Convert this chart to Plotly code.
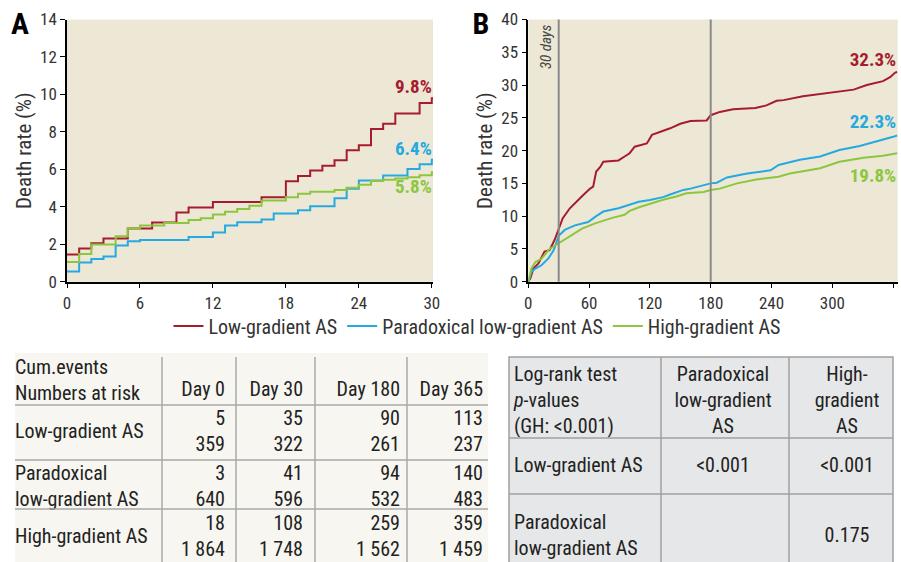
import plotly.graph_objects as go

FONT = "Roboto, Open Sans, sans-serif"
RED = "#a61c2e"
BLUE = "#25a9e0"
GREEN = "#8cc63f"
PLOT_BG = "#ece8d5"
TXT = "#333333"

series_names = ["Low-gradient AS", "Paradoxical low-gradient AS", "High-gradient AS"]
series_colors = [RED, BLUE, GREEN]

# ---- Panel A (first 30 days) ----
a_red_x = [0, 1, 2, 3, 5, 7, 9, 10, 12, 16, 18, 19, 20, 21, 22, 23, 24, 25, 26, 27, 29, 30, 30.1]
a_red_y = [1.45, 1.77, 2.05, 2.30, 2.84, 3.16, 3.70, 3.96, 4.25, 4.51, 5.37, 5.65, 5.94, 6.19, 6.49, 7.02, 7.29, 8.15, 8.43, 8.98, 9.54, 9.79, 9.79]
a_blue_x = [0, 1, 2, 3, 4, 5, 6, 10, 12, 13, 14, 16, 17, 19, 20, 22, 23, 24, 26, 28, 29, 30, 30.1]
a_blue_y = [0.55, 1.02, 1.21, 1.34, 1.93, 2.16, 2.23, 2.39, 2.63, 3.0, 3.17, 3.32, 3.64, 3.81, 4.03, 4.46, 4.96, 5.40, 5.67, 6.02, 6.27, 6.51, 6.51]
a_green_x = [0, 1, 2, 4, 5, 6, 8, 10, 11, 12, 13, 14, 15, 16, 18, 19, 20, 22, 23, 24, 25, 26, 27, 28, 29, 30, 30.1]
a_green_y = [1.05, 1.48, 1.98, 2.43, 2.84, 3.0, 3.13, 3.30, 3.39, 3.59, 3.73, 3.88, 4.05, 4.33, 4.51, 4.69, 4.80, 4.90, 5.01, 5.17, 5.38, 5.44, 5.51, 5.58, 5.69, 5.85, 5.85]
a_end_labels = ["9.8%", "6.4%", "5.8%"]
a_label_y = [10.35, 7.04, 4.98]
a_xticks = [0, 6, 12, 18, 24, 30]
a_yticks = [0, 2, 4, 6, 8, 10, 12, 14]

# ---- Panel B (first year) ----
b_red_x = [0, 2, 5, 10, 16, 21, 26, 30, 34, 41, 46, 54, 61, 64, 67, 71, 74, 89, 95, 100, 105, 117, 122, 132, 140, 150, 160, 176, 180, 189, 202, 224, 235, 245, 252, 271, 298, 321, 334, 350, 357, 362, 364]
b_red_y = [0, 0.5, 2.0, 2.8, 4.6, 4.8, 6.4, 8.0, 9.7, 11.2, 12.0, 13.2, 14.2, 14.5, 16.8, 17.5, 18.3, 18.5, 19.1, 19.6, 20.6, 21.1, 22.4, 22.9, 23.4, 24.1, 24.5, 24.6, 25.4, 25.9, 26.3, 26.5, 26.9, 27.6, 27.7, 28.3, 28.8, 29.3, 30.0, 30.6, 31.2, 31.9, 32.0]
b_blue_x = [0, 3, 7, 13, 20, 25, 30, 36, 46, 59, 67, 74, 89, 100, 109, 120, 133, 140, 153, 160, 171, 180, 186, 196, 216, 239, 247, 268, 288, 307, 327, 347, 360, 364]
b_blue_y = [0, 1.5, 2.0, 2.5, 3.6, 4.8, 7.0, 7.9, 8.6, 9.1, 10.0, 10.7, 11.2, 11.7, 12.2, 12.45, 12.9, 13.3, 14.0, 14.2, 14.7, 15.0, 15.1, 15.9, 16.5, 17.0, 17.8, 18.6, 19.1, 20.1, 20.7, 21.5, 22.1, 22.3]
b_green_x = [0, 3, 7, 13, 21, 30, 40, 53, 66, 82, 95, 100, 110, 120, 133, 146, 156, 173, 180, 189, 206, 225, 247, 258, 288, 307, 331, 350, 364]
b_green_y = [0, 2.0, 3.0, 3.5, 5.0, 5.85, 6.9, 8.1, 8.9, 9.7, 10.2, 10.8, 11.4, 11.9, 12.5, 13.0, 13.5, 13.7, 14.0, 14.2, 15.0, 15.6, 16.0, 16.5, 17.3, 18.3, 18.9, 19.2, 19.6]
b_end_labels = ["32.3%", "22.3%", "19.8%"]
b_label_y = [33.6, 24.1, 15.9]
b_marker_days = [30, 180]
b_xticks = [0, 60, 120, 180, 240, 300, 360]
b_yticks = [0, 5, 10, 15, 20, 25, 30, 35, 40]

# ---- Numbers-at-risk table ----
risk_header = ["Day 0", "Day 30", "Day 180", "Day 365"]
risk_rows = ["Low-gradient AS", "Paradoxical<br>low-gradient AS", "High-gradient AS"]
risk_events = [["5", "35", "90", "113"], ["3", "41", "94", "140"], ["18", "108", "259", "359"]]
risk_atrisk = [["359", "322", "261", "237"], ["640", "596", "532", "483"], ["1 864", "1 748", "1 562", "1 459"]]

# ---- Log-rank table ----
lr_header = ["Log-rank test<br><i>p</i>-values<br>(GH: <0.001)", "Paradoxical<br>low-gradient<br>AS", "High-<br>gradient<br>AS"]
lr_rows = ["Low-gradient AS", "Paradoxical<br>low-gradient AS"]
lr_values = [["<0.001", "<0.001"], ["", "0.175"]]

W, H = 901, 562
def px(x):
    return x / W
def py(y):
    return 1 - y / H

fig = go.Figure()

a_data = [(a_red_x, a_red_y), (a_blue_x, a_blue_y), (a_green_x, a_green_y)]
b_data = [(b_red_x, b_red_y), (b_blue_x, b_blue_y), (b_green_x, b_green_y)]
for i, (xs, ys) in enumerate(a_data):
    fig.add_trace(go.Scatter(x=xs, y=ys, mode="lines", line=dict(color=series_colors[i], width=2, shape="hv"),
                             name=series_names[i], legendgroup=series_names[i], showlegend=True,
                             xaxis="x", yaxis="y", hoverinfo="skip"))
for i, (xs, ys) in enumerate(b_data):
    fig.add_trace(go.Scatter(x=xs, y=ys, mode="lines", line=dict(color=series_colors[i], width=2),
                             name=series_names[i], legendgroup=series_names[i], showlegend=False,
                             xaxis="x2", yaxis="y2", hoverinfo="skip"))

# end-of-curve percentages, right-aligned at the last day of each panel
fig.add_trace(go.Scatter(x=[30] * 3, y=a_label_y, mode="text", text=["<b>%s</b>" % t for t in a_end_labels],
                         textposition="middle left", textfont=dict(family=FONT, size=19, color=series_colors),
                         showlegend=False, hoverinfo="skip", xaxis="x", yaxis="y", cliponaxis=False))
fig.add_trace(go.Scatter(x=[363] * 3, y=b_label_y, mode="text", text=["<b>%s</b>" % t for t in b_end_labels],
                         textposition="middle left", textfont=dict(family=FONT, size=19, color=series_colors),
                         showlegend=False, hoverinfo="skip", xaxis="x2", yaxis="y2", cliponaxis=False))

# ---- page-level text (panel letters, tables) on an invisible pixel-scaled overlay axis ----
left_x, left_y, left_t = [], [], []
right_x, right_y, right_t = [], [], []
cen_x, cen_y, cen_t = [], [], []

left_x.append(15); left_y.append(382); left_t.append("Cum.events<br>Numbers at risk")
col_right = [225, 303, 400, 483]
for j, h in enumerate(risk_header):
    right_x.append(col_right[j]); right_y.append(391); right_t.append(h)
row_centers = [433, 488, 538]
for i, r in enumerate(risk_rows):
    left_x.append(15); left_y.append(row_centers[i]); left_t.append(r)
    for j in range(4):
        right_x.append(col_right[j]); right_y.append(row_centers[i])
        right_t.append("%s<br>%s" % (risk_events[i][j], risk_atrisk[i][j]))
left_x.append(514); left_y.append(402); left_t.append(lr_header[0])
lr_cx = [723, 847]
for j in range(2):
    cen_x.append(lr_cx[j]); cen_y.append(402); cen_t.append(lr_header[j + 1])
lr_row_c = [467, 537]
for i, r in enumerate(lr_rows):
    left_x.append(514); left_y.append(lr_row_c[i]); left_t.append(r)
    for j in range(2):
        if lr_values[i][j]:
            cen_x.append(lr_cx[j]); cen_y.append(lr_row_c[i]); cen_t.append(lr_values[i][j])

tfont = dict(family=FONT, size=20, color="#222")
for xs, ys, ts, pos in [(left_x, left_y, left_t, "middle right"), (right_x, right_y, right_t, "middle left"),
                        (cen_x, cen_y, cen_t, "middle center")]:
    fig.add_trace(go.Scatter(x=xs, y=ys, text=ts, mode="text", textposition=pos, textfont=tfont,
                             showlegend=False, hoverinfo="skip", xaxis="x3", yaxis="y3", cliponaxis=False))
fig.add_trace(go.Scatter(x=[20, 481], y=[26, 26], text=["<b>A</b>", "<b>B</b>"], mode="text",
                         textposition="middle center", textfont=dict(family=FONT, size=30, color="black"),
                         showlegend=False, hoverinfo="skip", xaxis="x3", yaxis="y3", cliponaxis=False))

axis_common = dict(showline=True, linecolor="black", linewidth=1.5, ticks="outside", ticklen=5,
                   tickcolor="black", tickwidth=1.2, showgrid=False, zeroline=False, automargin=False,
                   tickfont=dict(family=FONT, size=17, color=TXT))
ytitle = dict(text="Death rate (%)", font=dict(family=FONT, size=21, color=TXT), standoff=3)
ydom = [py(281.7), py(19.5)]
fig.update_layout(
    xaxis=dict(domain=[px(67), px(433)], range=[0, 30.1], tickvals=a_xticks, anchor="y", **axis_common),
    yaxis=dict(domain=ydom, range=[0, 14], tickvals=a_yticks, anchor="x", title=ytitle, **axis_common),
    xaxis2=dict(domain=[px(528.3), px(897.7)], range=[0, 364.5], tickvals=b_xticks, anchor="y2", **axis_common),
    yaxis2=dict(domain=ydom, range=[0, 40], tickvals=b_yticks, anchor="x2", title=ytitle, **axis_common),
    xaxis3=dict(domain=[0, 1], range=[0, W], visible=False, anchor="y3", fixedrange=True, automargin=False),
    yaxis3=dict(domain=[0, 1], range=[H, 0], visible=False, anchor="x3", fixedrange=True, automargin=False),
)

shapes = []
for xr, yr in [("x domain", "y domain"), ("x2 domain", "y2 domain")]:
    shapes.append(dict(type="rect", xref=xr, yref=yr, x0=0, x1=1, y0=0, y1=1, fillcolor=PLOT_BG,
                       line=dict(width=0), layer="below"))
for d in b_marker_days:
    shapes.append(dict(type="line", xref="x2", yref="y2 domain", x0=d, x1=d, y0=0, y1=1,
                       line=dict(color="#8a8a8a", width=2), layer="above"))

annotations = [dict(xref="x2", yref="y2", x=18.2, y=35.9, text="<i>30 days</i>", textangle=-90,
                    showarrow=False, font=dict(family=FONT, size=15, color="#444"))]

# ---- table frames ----
shapes.append(dict(type="rect", xref="paper", yref="paper", x0=px(15), x1=px(488), y0=py(562), y1=py(353),
                   fillcolor="#f7f6f0", line=dict(width=0), layer="below"))
for yl in [405, 460, 509]:
    shapes.append(dict(type="line", xref="paper", yref="paper", x0=px(15), x1=px(488), y0=py(yl), y1=py(yl),
                       line=dict(color="#a8a8a8", width=1.5)))
for xl in [162, 236, 315, 407]:
    shapes.append(dict(type="line", xref="paper", yref="paper", x0=px(xl), x1=px(xl), y0=py(357), y1=py(562),
                       line=dict(color="#a8a8a8", width=1.5)))
shapes.append(dict(type="rect", xref="paper", yref="paper", x0=px(509), x1=px(893), y0=py(566), y1=py(357),
                   fillcolor="#e6e7e8", line=dict(color="#a0a0a0", width=1.5), layer="below"))
for yl in [438, 494]:
    shapes.append(dict(type="line", xref="paper", yref="paper", x0=px(509), x1=px(893), y0=py(yl), y1=py(yl),
                       line=dict(color="#a0a0a0", width=1.5)))
for xl in [661, 789]:
    shapes.append(dict(type="line", xref="paper", yref="paper", x0=px(xl), x1=px(xl), y0=py(357), y1=py(562),
                       line=dict(color="#a0a0a0", width=1.5)))

fig.update_layout(
    width=W, height=H, margin=dict(l=0, r=0, t=0, b=0, autoexpand=False),
    plot_bgcolor="rgba(0,0,0,0)", paper_bgcolor="white",
    font=dict(family=FONT, color=TXT),
    shapes=shapes, annotations=annotations,
    legend=dict(orientation="h", x=px(477), y=py(326), xanchor="center", yanchor="middle",
                font=dict(family=FONT, size=20, color=TXT), bgcolor="rgba(0,0,0,0)",
                itemwidth=30, tracegroupgap=0),
    showlegend=True,
)

# Remove the page's default body margin, use the condensed width of the installed variable
# font, then redraw with a changed family string so plotly re-measures every text.
post = """
document.body.style.margin = '0';
document.body.style.padding = '0';
document.body.style.overflow = 'hidden';
var s = document.createElement('style');
s.innerHTML = 'text { font-stretch: condensed !important; }';
document.head.appendChild(s);
var gd = document.getElementById('{plot_id}');
var fam = 'Roboto, Open Sans, sans-serif';
var fam2 = 'Roboto, Open Sans, Noto Sans, sans-serif';
var lay = JSON.parse(JSON.stringify(gd.layout).split(fam).join(fam2));
var dat = JSON.parse(JSON.stringify(gd.data).split(fam).join(fam2));
Plotly.purge(gd);
Plotly.newPlot(gd, dat, lay, {displayModeBar: false});
"""
fig.write_html("out.html", post_script=post, config={"displayModeBar": False})
